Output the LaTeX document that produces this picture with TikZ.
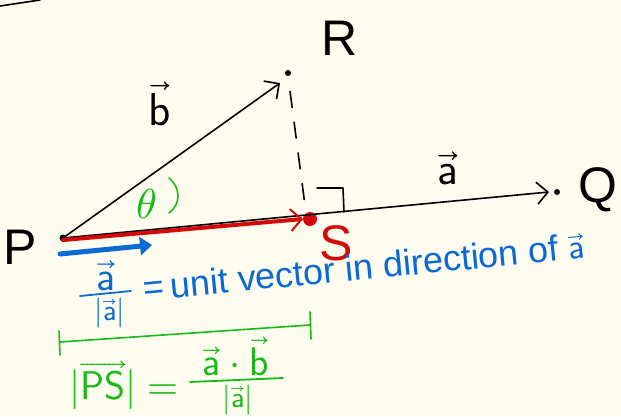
\documentclass[tikz,border=0pt]{standalone}
\usepackage{amsmath}
\usepackage{fontspec}
\usepackage{unicode-math}
\setmainfont{Liberation Sans}
\setmathfont{Latin Modern Math}
\usetikzlibrary{arrows.meta}
\definecolor{bg}{RGB}{253,252,238}
\definecolor{hred}{RGB}{210,10,10}
\definecolor{hblue}{RGB}{10,105,210}
\definecolor{hgreen}{RGB}{25,185,25}
\newcommand{\va}{\vec{\mathsf{a}}}
\newcommand{\vb}{\vec{\mathsf{b}}}
\tikzset{
  pt/.style={circle,fill=black,inner sep=0pt,minimum size=7pt},
  lab/.style={font=\fontsize{50}{50}\selectfont},
  barb/.style={-{Straight Barb[length=11pt,width=22pt,line width=1.6pt]}},
  ink/.style={line width=1.6pt,line cap=round,line join=round},
}
\begin{document}
\begin{tikzpicture}[x=1pt,y=-1pt]
\fill[bg] (0,0) rectangle (621,416);
\useasboundingbox (0,0) rectangle (621,416);
% stray stroke top-left
\coordinate (t1) at (0,6); \coordinate (t2) at (40,0);
\draw[ink] (t1) -- (t2);
% points
\node[pt] (P) at (63,238) {};
\node[pt,minimum size=6pt] (R) at (288,73) {};
\node[pt,minimum size=6pt] (Q) at (557,192) {};
\node[circle,fill=hred,inner sep=0pt,minimum size=14pt] (S) at (310,219) {};
% labels
\node[lab] (Pl) at (20,247) {P};
\node[lab] (Rl) at (340,38) {R};
\node[lab] (Ql) at (598,190) {Q};
\node[lab,text=hred] (Sl) at (336,243) {S};
\node[font=\fontsize{46}{46}\selectfont] (bl) at (160,104) {$\vb$};
\node[font=\fontsize{46}{46}\selectfont] (al) at (448,168) {$\va$};
% vectors
\draw[ink,barb] (P.center) -- ([shift={(-8,10)}]R.center);
\draw[ink,barb] (P.center) -- ([shift={(-8,0)}]Q.center);
\draw[line width=4pt,hred,line cap=round,-{Straight Barb[length=11pt,width=22pt,line width=2pt]}] ([shift={(0,2)}]P.center) -- ([shift={(-7,0)}]S.center);
\draw[line width=1.6pt,dash pattern=on 17pt off 14pt] ([shift={(2,18)}]R.center) -- ([shift={(-4,-6)}]S.center);
% right angle
\coordinate (r1) at (317,188); \coordinate (r2) at (343,188); \coordinate (r3) at (344,212);
\draw[ink] (r1) -- (r2) -- (r3);
% blue unit vector
\coordinate (u1) at (60,254); \coordinate (u2) at (152,245);
\draw[line width=5pt,hblue,line cap=round,-{Triangle[length=12pt,width=18pt]}] (u1) -- (u2);
% theta
\node[text=hgreen,font=\fontsize{42}{42}\selectfont] (th) at (147,204) {$\theta$};
\coordinate (th1) at (169,178); \coordinate (th2) at (169,213);
\draw[ink,hgreen] (th1) .. controls (181,188) and (181,204) .. (th2);
% blue annotation: fraction a / |a|
\node[text=hblue,font=\fontsize{42}{42}\selectfont,inner sep=0pt,anchor=south] (fn) at (106,291) {$\va$};
\coordinate (fl1) at (80,296); \coordinate (fl2) at (131,291);
\draw[line width=1.8pt,hblue,line cap=round] (fl1) -- (fl2);
\node[text=hblue,font=\fontsize{30}{30}\selectfont,inner sep=0pt,anchor=north] (fd) at (110,298) {$|\va|$};
\node[text=hblue,font=\fontsize{36}{36}\selectfont,anchor=west,rotate=5.5,inner sep=0pt] (unit) at (143,288) {=\,unit vector in direction of $\va$};
% green bracket
\coordinate (g1) at (60,342); \coordinate (g2) at (310,325);
\coordinate (g1a) at (59,331); \coordinate (g1b) at (60,355);
\coordinate (g2a) at (310,312); \coordinate (g2b) at (311,339);
\draw[ink,hgreen] (g1) -- (g2);
\draw[ink,hgreen] (g1a) -- (g1b);
\draw[ink,hgreen] (g2a) -- (g2b);
% green formula
\node[text=hgreen,font=\fontsize{40}{40}\selectfont,inner sep=0pt] (ps) at (124,385) {$|\overrightarrow{\mathsf{PS}}| =$};
\node[text=hgreen,font=\fontsize{40}{40}\selectfont,inner sep=0pt,anchor=south] (num) at (236,376) {$\va\cdot\vb$};
\coordinate (gl1) at (190,382); \coordinate (gl2) at (283,378);
\draw[line width=1.8pt,hgreen,line cap=round] (gl1) -- (gl2);
\node[text=hgreen,font=\fontsize{30}{30}\selectfont,inner sep=0pt,anchor=north] (den) at (238,385) {$|\va|$};
\end{tikzpicture}
\end{document}
